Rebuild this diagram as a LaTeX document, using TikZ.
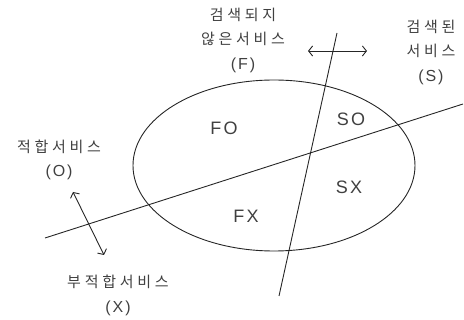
\documentclass[tikz,border=0pt]{standalone}
\usepackage{fontspec}
\newfontfamily\krfont[LetterSpace=25]{Noto Sans CJK KR}
\newfontfamily\lafont[LetterSpace=12]{Liberation Sans}
\usetikzlibrary{arrows.meta}
\tikzset{
  lbl/.style={font=\krfont\fontsize{15}{24.5}\selectfont, text=black!75, align=center, inner sep=0pt},
  reg/.style={font=\lafont\fontsize{18}{20}\selectfont, text=black!75, inner sep=0pt},
  ln/.style={line width=0.9pt, black!85},
  dbl/.style={ln, {Straight Barb[length=4pt,width=10pt]}-{Straight Barb[length=4pt,width=10pt]}}
}
\newcommand{\lt}[1]{{\lafont\fontsize{16}{24.5}\selectfont #1}}
\begin{document}
\begin{tikzpicture}[x=1pt,y=-1pt]
\useasboundingbox (0,0) rectangle (464,320);
\draw[ln] (274,165.5) ellipse [x radius=141, y radius=85.5];
\coordinate (a1) at (337,33);
\coordinate (a2) at (279,296);
\coordinate (b1) at (45,238);
\coordinate (b2) at (463,104);
\draw[ln] (a1) -- (a2);
\draw[ln] (b1) -- (b2);
\coordinate (h1) at (308,51);
\coordinate (h2) at (367,51);
\draw[dbl] (h1) -- (h2);
\coordinate (v1) at (73,192);
\coordinate (v2) at (104,255);
\draw[dbl] (v1) -- (v2);
\node[lbl] (F) at (243,40) {검색되지\\않은서비스\\\lt{(F)}};
\node[lbl] (S) at (431,52) {검색된\\서비스\\\lt{(S)}};
\node[lbl] (O) at (59,160) {적합서비스\\\lt{(O)}};
\node[lbl] (X) at (118,295.5) {부적합서비스\\\lt{(X)}};
\node[reg] (FO) at (224,128) {FO};
\node[reg] (SO) at (351,119) {SO};
\node[reg] (SX) at (349,187) {SX};
\node[reg] (FX) at (246,216) {FX};
\end{tikzpicture}
\end{document}
